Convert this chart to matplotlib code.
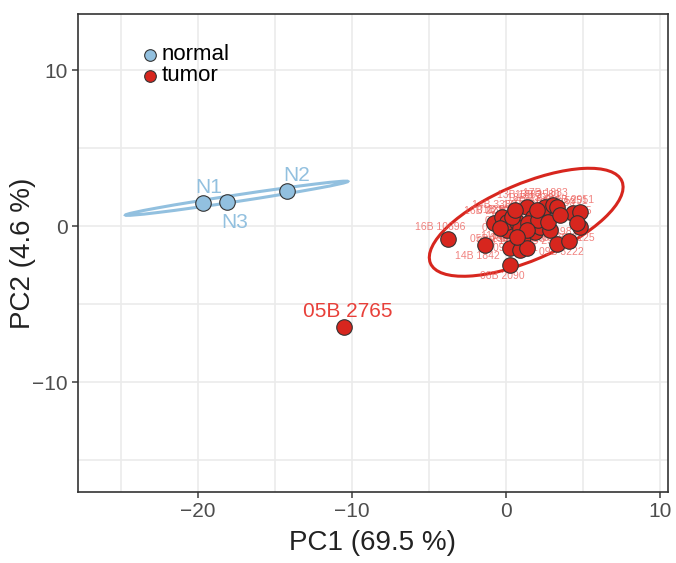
import matplotlib.pyplot as plt
from matplotlib.patches import Ellipse

plt.rcParams['font.family'] = ['Liberation Sans', 'DejaVu Sans']

# normal samples
normal_x = [-19.7, -18.1, -14.2]
normal_y = [1.47, 1.54, 2.24]
normal_labels = ["N1", "N3", "N2"]

# tumor samples (cluster, labels mostly unreadable in the reference)
tumor_x = [-3.77, -1.36, -0.78, -0.26, 0.06, 0.06, 0.26, 0.26, 0.71, 0.91,
           1.10, 1.36, 1.36, 1.56, 1.75, 1.88, 2.21, 2.40, 2.53, 2.86,
           3.05, 3.31, 4.09, 4.35, 4.81, 4.81, 4.61, 0.91, 0.39, 1.43,
           2.08, 3.31, 1.36, 0.71, 0.58, 2.01, 2.73, -0.39, 3.50]
tumor_y = [-0.83, -1.22, 0.19, 0.58, -0.26, 0.26, -1.41, -2.50, 0.26, -1.54,
           -0.71, 1.22, -1.41, -0.13, 0.58, -0.38, -0.06, 0.71, 1.22, -0.26,
           1.35, -1.15, -0.96, 0.83, 0.90, -0.06, 0.19, -0.13, 0.58, 0.19,
           0.38, 1.22, -0.26, -0.71, 1.03, 1.03, 0.26, -0.13, 0.70]
tumor_labels = ["16B 10696", "14B 1842", "16B 2210", "14B 3380", "07B 1185", "01B 2207",
                "11B 1530", "08B 2090", "03B 4417", "08B 1876", "09B 2231", "13B 1883",
                "06B 1730", "02B 3316", "14B 2904", "10B 1745", "12B 2660", "15B 1961",
                "13B 2580", "04B 2975", "17B 1883", "05B 1498", "09B 3222", "18B 5951",
                "11B 2951", "07B 2125", "06B 1975", "12B 3076", "04B 2019", "10B 1576",
                "02B 3121", "15B 2883", "17B 2176", "03B 1612", "01B 1407", "18B 2304",
                "16B 1990", "05B 2309", "19B 1880"]
outlier_x = [-10.5]
outlier_y = [-6.47]
outlier_labels = ["05B 2765"]

# ellipses: centre, width, height, angle (data units)
normal_ell = ((-17.5, 1.79), 14.6, 0.42, 8.5)
tumor_ell = ((1.3, 0.25), 13.5, 4.9, 22.9)

blue = "#92c0df"
red = "#d7261e"

fig = plt.figure(figsize=(6.76, 5.63), dpi=100)
ax = fig.add_axes([0.1154, 0.126, 0.8726, 0.849])

for (c, w, h, a), col in [(normal_ell, blue), (tumor_ell, red)]:
    ax.add_patch(Ellipse(c, w, h, angle=a, fill=False, edgecolor=col, lw=2.2, zorder=2))

ax.scatter(normal_x, normal_y, s=125, color=blue, edgecolor="#333333", lw=0.8, zorder=4, label="normal")
ax.scatter(tumor_x + outlier_x, tumor_y + outlier_y, s=125, color=red, edgecolor="#333333",
           lw=0.8, zorder=4, label="tumor")

# labels
n_off = [(0.4, 1.0), (0.5, -1.3), (0.6, 1.0)]
for x, y, t, (dx, dy) in zip(normal_x, normal_y, normal_labels, n_off):
    ax.text(x + dx, y + dy, t, color=blue, fontsize=15, ha="center", va="center", zorder=5)
for x, y, t in zip(outlier_x, outlier_y, outlier_labels):
    ax.text(x + 0.2, y + 1.0, t, color="#e8403a", fontsize=15, ha="center", va="center", zorder=5)
for i, (x, y, t) in enumerate(zip(tumor_x, tumor_y, tumor_labels)):
    dy = -0.7 if i % 3 == 1 else 0.8
    ax.text(x - 0.5, y + dy, t, color="#ec5a55", alpha=0.75, fontsize=7.5,
            ha="center", va="center", zorder=3)

ax.set_xlim(-27.8, 10.5)
ax.set_ylim(-17.05, 13.6)
ax.set_xticks([-20, -10, 0, 10])
ax.set_yticks([-10, 0, 10])
ax.set_xticks([-25, -15, -5, 5], minor=True)
ax.set_yticks([-15, -5, 5], minor=True)
ax.set_xticklabels(["\u221220", "\u221210", "0", "10"])
ax.set_yticklabels(["\u221210", "0", "10"])
ax.tick_params(which="major", labelsize=15, colors="#4d4d4d", length=4, width=1.2, labelcolor="#4d4d4d")
ax.tick_params(which="minor", length=0)
ax.grid(True, which="both", color="#ebebeb", lw=1.2, zorder=0)
ax.set_axisbelow(True)
for s in ax.spines.values():
    s.set_color("#333333")
    s.set_linewidth(1.2)

ax.set_xlabel("PC1 (69.5 %)", fontsize=20, color="#222222", labelpad=6)
ax.set_ylabel("PC2 (4.6 %)", fontsize=20, color="#222222")
ax.yaxis.set_label_coords(-0.072, 0.5)

ax.legend(loc="upper left", bbox_to_anchor=(0.07, 0.955), frameon=False, fontsize=16,
          handletextpad=-0.5, labelspacing=0.0, borderaxespad=0, markerscale=0.75)

fig.savefig("out.png", dpi=100)
